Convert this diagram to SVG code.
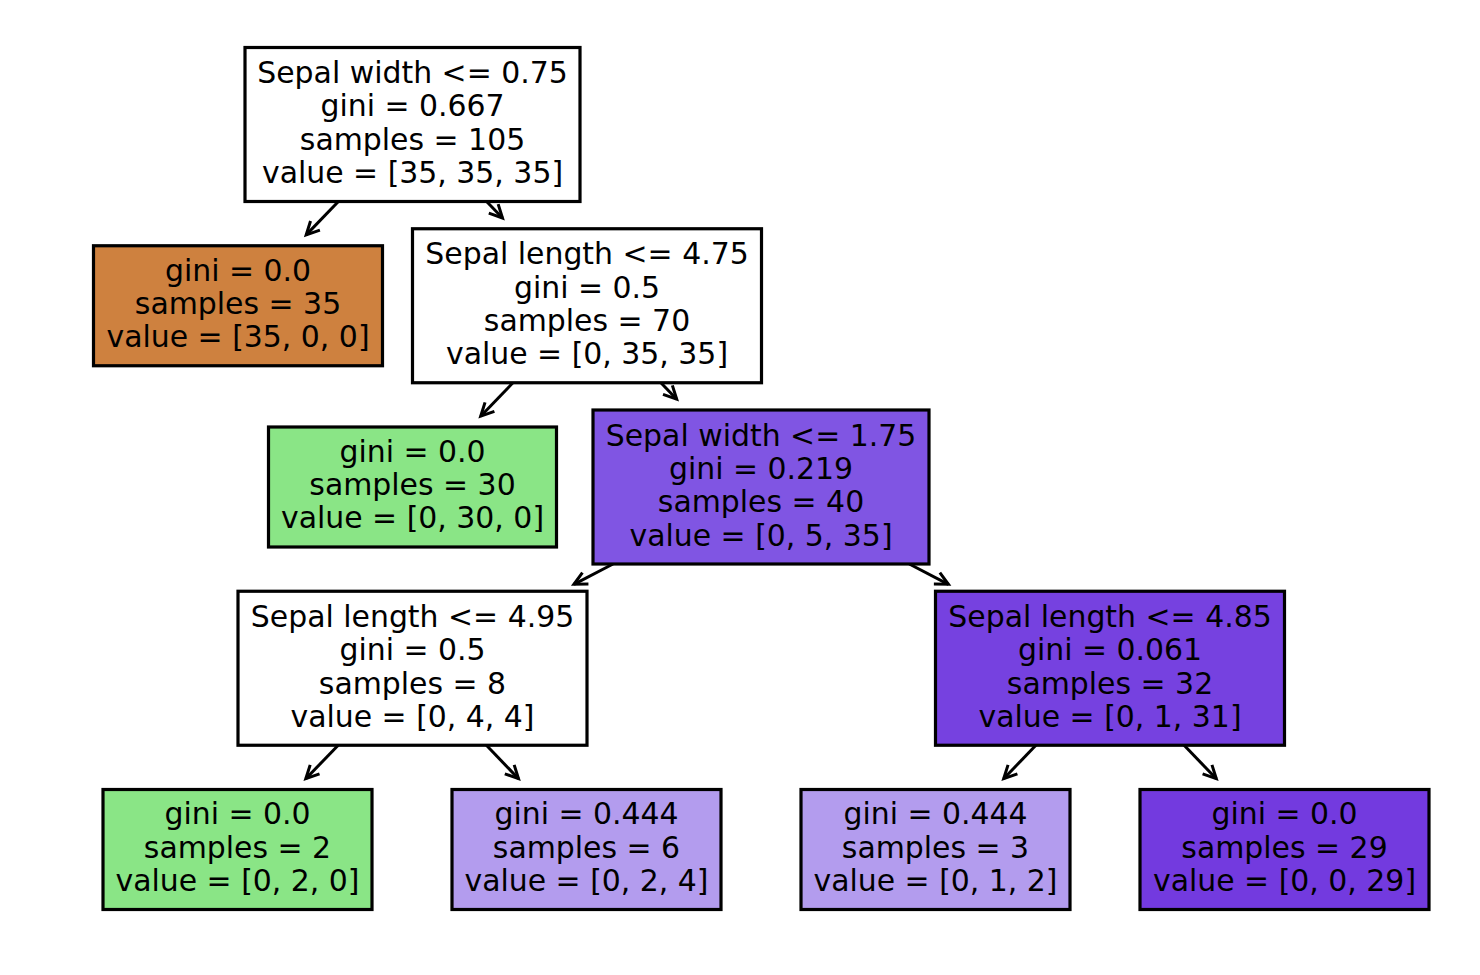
<svg xmlns="http://www.w3.org/2000/svg" width="1480" height="975" viewBox="0 0 1480 975">
<style>
.box{stroke:#000;stroke-width:3.2}
.t{font-family:"DejaVu Sans",sans-serif;font-size:29.9px;fill:#000;text-anchor:middle}
.edge{fill:none;stroke:#000;stroke-width:3}
</style>
<defs>
<marker id="arr" markerUnits="userSpaceOnUse" orient="auto" markerWidth="40" markerHeight="40" refX="0" refY="0" viewBox="-20 -20 40 40" overflow="visible">
<path d="M-13,-6.5 L0,0 L-13,6.5" fill="none" stroke="#000" stroke-width="3" stroke-linejoin="miter"/>
</marker>
</defs>
<rect width="1480" height="975" fill="#fff"/>
<g id="connectors">
<path class="edge" marker-end="url(#arr)" d="M338.4,201.5 L306.2,234.9"/>
<path class="edge" marker-end="url(#arr)" d="M486.6,201.5 L502.5,218"/>
<path class="edge" marker-end="url(#arr)" d="M512.9,382.8 L480.7,416.2"/>
<path class="edge" marker-end="url(#arr)" d="M660.9,382.8 L676.7,399.2"/>
<path class="edge" marker-end="url(#arr)" d="M613,564 L573.9,584.3"/>
<path class="edge" marker-end="url(#arr)" d="M909.3,564 L948.4,584.3"/>
<path class="edge" marker-end="url(#arr)" d="M338.2,745.3 L305.8,778.7"/>
<path class="edge" marker-end="url(#arr)" d="M486.4,745.3 L518.5,778.7"/>
<path class="edge" marker-end="url(#arr)" d="M1035.9,745.3 L1003.7,778.7"/>
<path class="edge" marker-end="url(#arr)" d="M1184.1,745.3 L1216.3,778.7"/>
</g>
<g id="node0">
<rect class="box" x="245" y="47.5" width="335" height="154" fill="#ffffff"/>
<text class="t" x="412.5" y="83">Sepal width &lt;= 0.75</text>
<text class="t" x="412.5" y="116.3">gini = 0.667</text>
<text class="t" x="412.5" y="149.7">samples = 105</text>
<text class="t" x="412.5" y="183">value = [35, 35, 35]</text>
</g>
<g id="node1">
<rect class="box" x="93.5" y="245.75" width="289" height="120" fill="#ce813f"/>
<text class="t" x="238" y="280.5">gini = 0.0</text>
<text class="t" x="238" y="313.8">samples = 35</text>
<text class="t" x="238" y="347.1">value = [35, 0, 0]</text>
</g>
<g id="node2">
<rect class="box" x="412.5" y="228.75" width="349" height="154" fill="#ffffff"/>
<text class="t" x="587" y="264.3">Sepal length &lt;= 4.75</text>
<text class="t" x="587" y="297.6">gini = 0.5</text>
<text class="t" x="587" y="331">samples = 70</text>
<text class="t" x="587" y="364.3">value = [0, 35, 35]</text>
</g>
<g id="node3">
<rect class="box" x="268.5" y="427" width="288" height="120" fill="#8ae586"/>
<text class="t" x="412.5" y="461.7">gini = 0.0</text>
<text class="t" x="412.5" y="495">samples = 30</text>
<text class="t" x="412.5" y="528.4">value = [0, 30, 0]</text>
</g>
<g id="node4">
<rect class="box" x="593" y="410" width="336" height="154" fill="#8055e3"/>
<text class="t" x="761" y="445.5">Sepal width &lt;= 1.75</text>
<text class="t" x="761" y="478.8">gini = 0.219</text>
<text class="t" x="761" y="512.2">samples = 40</text>
<text class="t" x="761" y="545.5">value = [0, 5, 35]</text>
</g>
<g id="node5">
<rect class="box" x="238" y="591.25" width="349" height="154" fill="#ffffff"/>
<text class="t" x="412.5" y="626.8">Sepal length &lt;= 4.95</text>
<text class="t" x="412.5" y="660.1">gini = 0.5</text>
<text class="t" x="412.5" y="693.5">samples = 8</text>
<text class="t" x="412.5" y="726.8">value = [0, 4, 4]</text>
</g>
<g id="node6">
<rect class="box" x="935.5" y="591.25" width="349" height="154" fill="#7641e0"/>
<text class="t" x="1110" y="626.8">Sepal length &lt;= 4.85</text>
<text class="t" x="1110" y="660.1">gini = 0.061</text>
<text class="t" x="1110" y="693.5">samples = 32</text>
<text class="t" x="1110" y="726.8">value = [0, 1, 31]</text>
</g>
<g id="node7">
<rect class="box" x="103" y="789.5" width="269" height="120" fill="#8ae586"/>
<text class="t" x="237.5" y="824.2">gini = 0.0</text>
<text class="t" x="237.5" y="857.5">samples = 2</text>
<text class="t" x="237.5" y="890.9">value = [0, 2, 0]</text>
</g>
<g id="node8">
<rect class="box" x="452" y="789.5" width="269" height="120" fill="#b39cee"/>
<text class="t" x="586.5" y="824.2">gini = 0.444</text>
<text class="t" x="586.5" y="857.5">samples = 6</text>
<text class="t" x="586.5" y="890.9">value = [0, 2, 4]</text>
</g>
<g id="node9">
<rect class="box" x="801" y="789.5" width="269" height="120" fill="#b39cee"/>
<text class="t" x="935.5" y="824.2">gini = 0.444</text>
<text class="t" x="935.5" y="857.5">samples = 3</text>
<text class="t" x="935.5" y="890.9">value = [0, 1, 2]</text>
</g>
<g id="node10">
<rect class="box" x="1140" y="789.5" width="289" height="120" fill="#733adf"/>
<text class="t" x="1284.5" y="824.2">gini = 0.0</text>
<text class="t" x="1284.5" y="857.5">samples = 29</text>
<text class="t" x="1284.5" y="890.9">value = [0, 0, 29]</text>
</g>
</svg>
